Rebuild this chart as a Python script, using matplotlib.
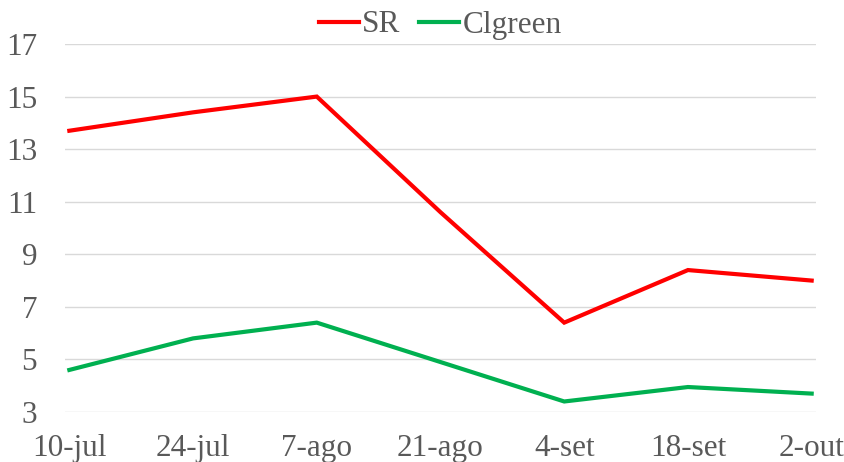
import matplotlib.pyplot as plt
import numpy as np

plt.rcParams['font.family'] = ['Liberation Serif', 'DejaVu Serif']

dates = ['10-jul', '24-jul', '7-ago', '21-ago', '4-set', '18-set', '2-out']
sr = [13.7, 14.4, 15.0, 10.6, 6.4, 8.4, 8.0]
clgreen = [4.6, 5.8, 6.4, 4.9, 3.4, 3.95, 3.7]

fig = plt.figure(figsize=(8.45, 4.62), dpi=100)
ax = fig.add_axes([65/845, 50/462, 751/845, 368/462])

x = np.arange(len(dates))
ax.plot(x, sr, color='#ff0000', lw=3, label='SR', solid_joinstyle='miter')
ax.plot(x, clgreen, color='#00b050', lw=3, label='Clgreen', solid_joinstyle='miter')

ax.set_ylim(3, 17)
ax.set_yticks(np.arange(3, 18, 2))
ax.set_xlim(-0.035, 6.035)
ax.set_xticks(x)
ax.set_xticklabels(dates)
ax.grid(axis='y', color='#d9d9d9', lw=1)
ax.set_axisbelow(True)
for s in ax.spines.values():
    s.set_visible(False)
ax.tick_params(length=0, labelsize=22.5, colors='#595959')
ax.tick_params(axis='x', pad=16)
ax.tick_params(axis='y', pad=20)

ax.legend(loc='center', bbox_to_anchor=(0.5, (462-25-50)/368), ncol=2, frameon=False,
          fontsize=22.5, labelcolor='#595959', handlelength=1.28, handletextpad=0.1,
          columnspacing=0.6, borderaxespad=0, borderpad=0)

plt.savefig('out.png', dpi=100)
